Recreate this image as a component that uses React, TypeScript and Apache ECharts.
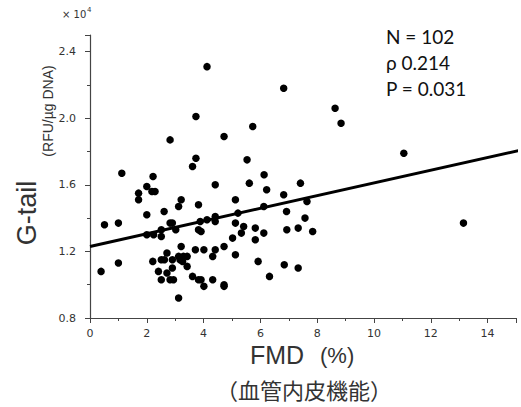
import React, { useEffect, useRef } from "react";
import * as echarts from "echarts";

// FMD (%) values
const fmd: number[] = [
  4.12, 6.82, 3.73, 5.73, 4.72, 2.82, 3.73, 5.53, 3.61, 1.12,
  2.22, 6.13, 2.0, 5.61, 4.41, 7.41, 1.71, 2.18, 2.29, 1.71,
  6.22, 3.21, 5.12, 6.82, 3.82, 3.12, 2.0, 2.61, 5.21, 6.12,
  6.92, 0.51, 1.0, 2.82, 2.9, 4.41, 4.41, 4.12, 3.88, 3.82,
  3.91, 2.51, 3.02, 5.12, 5.41, 5.33, 5.82, 6.12, 6.93, 7.33,
  7.57, 2.0, 2.24, 2.51, 5.02, 5.82, 0.39, 1.0, 2.21, 2.71,
  2.51, 2.62, 2.9, 3.21, 3.12, 3.29, 3.42, 3.17, 3.26, 3.42,
  3.71, 4.01, 4.41, 4.72, 4.32, 5.12, 5.92, 6.84, 7.33, 2.41,
  2.71, 2.9, 2.51, 2.82, 2.94, 3.61, 3.82, 3.91, 4.01, 4.32,
  4.72, 4.72, 6.32, 3.12, 8.63, 8.84, 11.05, 7.64, 7.84, 13.15,
];

// G-tail (x10^4 RFU/ug DNA) values
const gtail: number[] = [
  2.31, 2.18, 2.01, 1.95, 1.89, 1.87, 1.76, 1.75, 1.71, 1.67,
  1.65, 1.66, 1.59, 1.61, 1.6, 1.61, 1.55, 1.56, 1.56, 1.51,
  1.57, 1.51, 1.51, 1.54, 1.48, 1.47, 1.42, 1.44, 1.43, 1.47,
  1.44, 1.36, 1.37, 1.37, 1.37, 1.41, 1.38, 1.39, 1.38, 1.33,
  1.32, 1.33, 1.33, 1.37, 1.35, 1.31, 1.34, 1.31, 1.33, 1.34,
  1.4, 1.3, 1.3, 1.29, 1.28, 1.27, 1.08, 1.13, 1.14, 1.19,
  1.15, 1.15, 1.15, 1.23, 1.17, 1.17, 1.17, 1.15, 1.14, 1.11,
  1.21, 1.21, 1.21, 1.23, 1.17, 1.18, 1.14, 1.12, 1.1, 1.08,
  1.07, 1.1, 1.03, 1.03, 1.03, 1.05, 1.03, 1.03, 0.99, 1.03,
  1.0, 0.99, 1.05, 0.92, 2.06, 1.97, 1.79, 1.5, 1.32, 1.37,
];

// regression line end points
const fitX: number[] = [0, 15.2];
const fitY: number[] = [1.23, 1.81];

const xTicks: number[] = [0, 2, 4, 6, 8, 10, 12, 14];
const yTicks: number[] = [0.8, 1.2, 1.6, 2.0, 2.4];

const statsLines: string[] = ["N = 102", "ρ 0.214", "P = 0.031"];

export default function App() {
  const ref = useRef<HTMLDivElement>(null);
  useEffect(() => {
    document.body.style.margin = "0";
    if (!ref.current) return;
    const chart = echarts.init(ref.current, undefined, { renderer: "svg" });
    const axisColor = "#444";
    const labelColor = "#333";
    chart.setOption({
      animation: false,
      grid: { left: 90, right: 5, top: 35, bottom: 89, containLabel: false },
      xAxis: {
        type: "value",
        min: xTicks[0],
        max: 15,
        interval: 2,
        axisLine: { show: true, lineStyle: { color: axisColor, width: 1.2 } },
        axisTick: { show: true, inside: false, length: 5, lineStyle: { color: axisColor } },
        minorTick: { show: true, splitNumber: 2, length: 3, lineStyle: { color: axisColor } },
        splitLine: { show: false },
        axisLabel: {
          showMaxLabel: false,
          margin: 10,
          color: labelColor,
          fontSize: 11,
          fontFamily: "DejaVu Sans",
        },
      },
      yAxis: {
        type: "value",
        min: yTicks[0],
        max: 2.5,
        interval: 0.4,
        axisLine: { show: true, lineStyle: { color: axisColor, width: 1.2 } },
        axisTick: { show: true, inside: false, length: 5, lineStyle: { color: axisColor } },
        minorTick: { show: true, splitNumber: 2, length: 3, lineStyle: { color: axisColor } },
        splitLine: { show: false },
        axisLabel: {
          showMaxLabel: false,
          margin: 14,
          color: labelColor,
          fontSize: 11,
          fontFamily: "DejaVu Sans",
          formatter: (v: number) => v.toFixed(1),
        },
      },
      series: [
        {
          type: "scatter",
          data: fmd.map((x, i) => [x, gtail[i]]),
          symbol: "circle",
          symbolSize: 7.5,
          itemStyle: { color: "#000", opacity: 1 },
          z: 3,
        },
        {
          type: "line",
          data: fitX.map((x, i) => [x, fitY[i]]),
          symbol: "none",
          clip: false,
          lineStyle: { color: "#000", width: 3 },
          z: 2,
        },
      ],
      graphic: [
        {
          type: "text",
          left: 62,
          top: 9,
          style: { text: "× 10", fill: labelColor, font: "10px 'DejaVu Sans'" },
        },
        {
          type: "text",
          left: 87,
          top: 6,
          style: { text: "4", fill: labelColor, font: "7px 'DejaVu Sans'" },
        },
        {
          type: "text",
          x: 27,
          y: 213,
          rotation: Math.PI / 2,
          style: {
            text: "G-tail",
            fill: labelColor,
            font: "27px 'Liberation Sans'",
            align: "center",
            verticalAlign: "middle",
          },
        },
        {
          type: "text",
          x: 48,
          y: 111,
          rotation: Math.PI / 2,
          style: {
            text: "(RFU/µg DNA)",
            fill: labelColor,
            font: "14px 'Liberation Sans'",
            align: "center",
            verticalAlign: "middle",
          },
        },
        {
          type: "text",
          left: 250,
          top: 342,
          style: {
            text: "FMD",
            fill: labelColor,
            font: "25px 'Liberation Sans'",
          },
        },
        {
          type: "text",
          left: 320,
          top: 344,
          style: {
            text: "(%)",
            fill: labelColor,
            font: "22px 'Liberation Sans'",
          },
        },
        {
          type: "text",
          x: 304,
          y: 389,
          style: {
            text: "（血管内皮機能）",
            fill: labelColor,
            font: "22px 'Noto Sans CJK JP'",
            align: "center",
            verticalAlign: "middle",
          },
        },
        ...statsLines.map((t, i) => ({
          type: "text",
          left: 386,
          top: 27 + i * 26,
          style: { text: t, fill: "#111", font: "19px Lato" },
        })),
      ],
    });
    return () => chart.dispose();
  }, []);
  return <div ref={ref} style={{ width: 521, height: 407 }} />;
}
